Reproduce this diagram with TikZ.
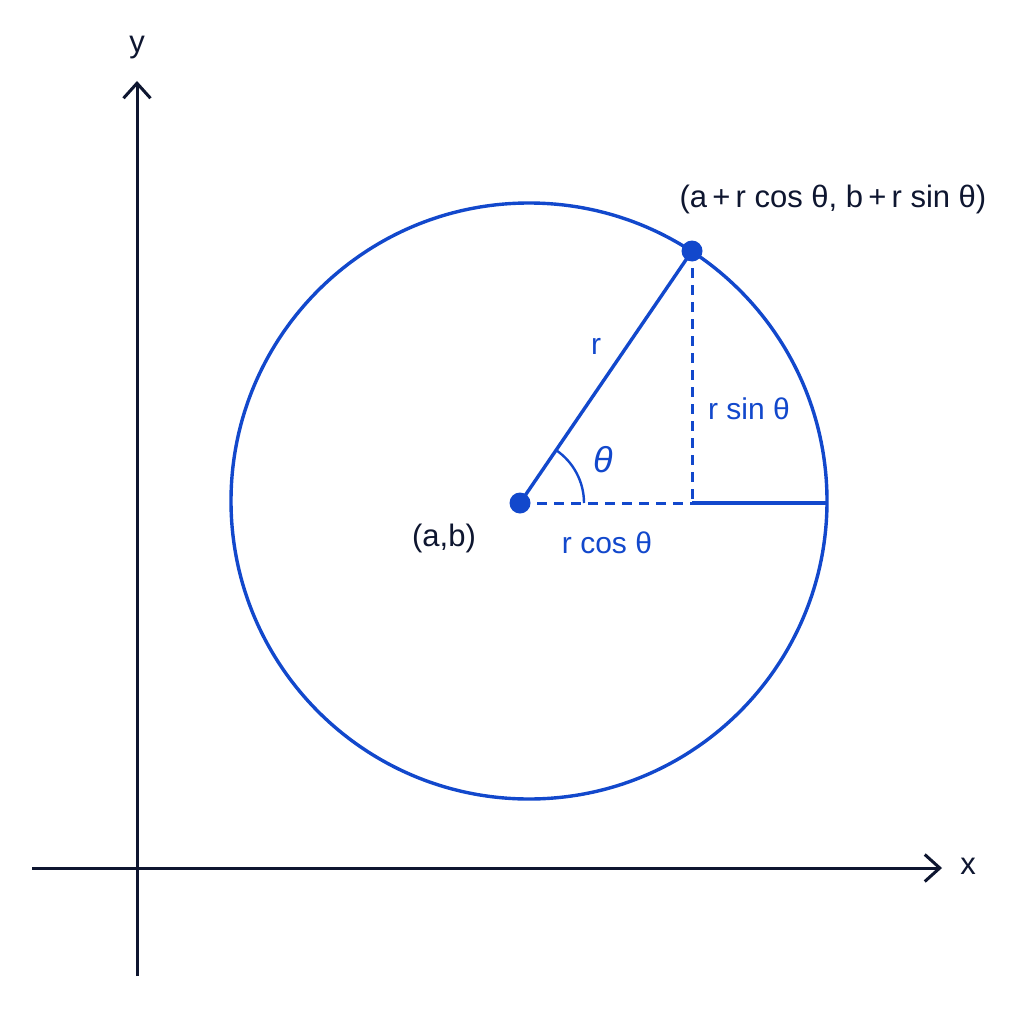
\documentclass[tikz,border=0pt]{standalone}
\usepackage{fontspec}
\setmainfont{Liberation Sans}
\usetikzlibrary{arrows.meta}
\definecolor{cblue}{RGB}{18,72,204}
\definecolor{navy}{RGB}{14,22,48}
\tikzset{
  axis/.style={draw=navy,line width=3pt,-{Straight Barb[length=15pt,width=27pt,line width=3pt]}},
  curve/.style={draw=cblue,line width=3.4pt},
  dashline/.style={draw=cblue,line width=3pt,dash pattern=on 10pt off 7pt},
  dot/.style={circle,fill=cblue,inner sep=0pt,minimum size=21pt},
  lbl/.style={text=cblue,font=\fontsize{30}{33}\selectfont,inner sep=0pt},
  dlbl/.style={text=navy,font=\fontsize{31}{34}\selectfont,inner sep=0pt}
}
\begin{document}
\begin{tikzpicture}[x=1pt,y=-1pt]
\useasboundingbox[fill=white] (0,0) rectangle (1024,1024);
% axes
\coordinate (xs) at (32,868);
\coordinate (xe) at (942,868);
\coordinate (ys) at (137,976);
\coordinate (ye) at (137,81);
\draw[axis] (xs) -- (xe);
\draw[axis] (ys) -- (ye);
\node[dlbl] (ylab) at (137,48) {y};
\node[dlbl] (xlab) at (968,866) {x};
% circle
\coordinate (O) at (529,501);
\draw[curve] (O) circle[radius=298pt];
% points
\coordinate (C) at (520,503);
\coordinate (P) at (692,251);
\coordinate (F) at (692,503);
\coordinate (E) at (827,503);
\draw[curve] (C) -- (P);
\draw[dashline] (C) -- (F);
\draw[dashline] (P) -- (F);
\draw[curve] (F) -- (E);
\draw[draw=cblue,line width=2.4pt] ([xshift=64pt]C) arc[start angle=0,end angle=55.7,radius=64pt];
\node[dot] (Cd) at (C) {};
\node[dot] (Pd) at (P) {};
% labels
\node[dlbl] (pl) at (833,199) {(a\,+\,r cos θ, b\,+\,r sin θ)};
\node[dlbl] (cl) at (444,538) {(a,b)};
\node[lbl] (rl) at (596,346) {r};
\node[lbl,font=\fontsize{36}{40}\selectfont] (tl) at (603,460) {\itshape θ};
\node[lbl] (sl) at (749,409) {r sin θ};
\node[lbl] (kl) at (607,543) {r cos θ};
\end{tikzpicture}
\end{document}
